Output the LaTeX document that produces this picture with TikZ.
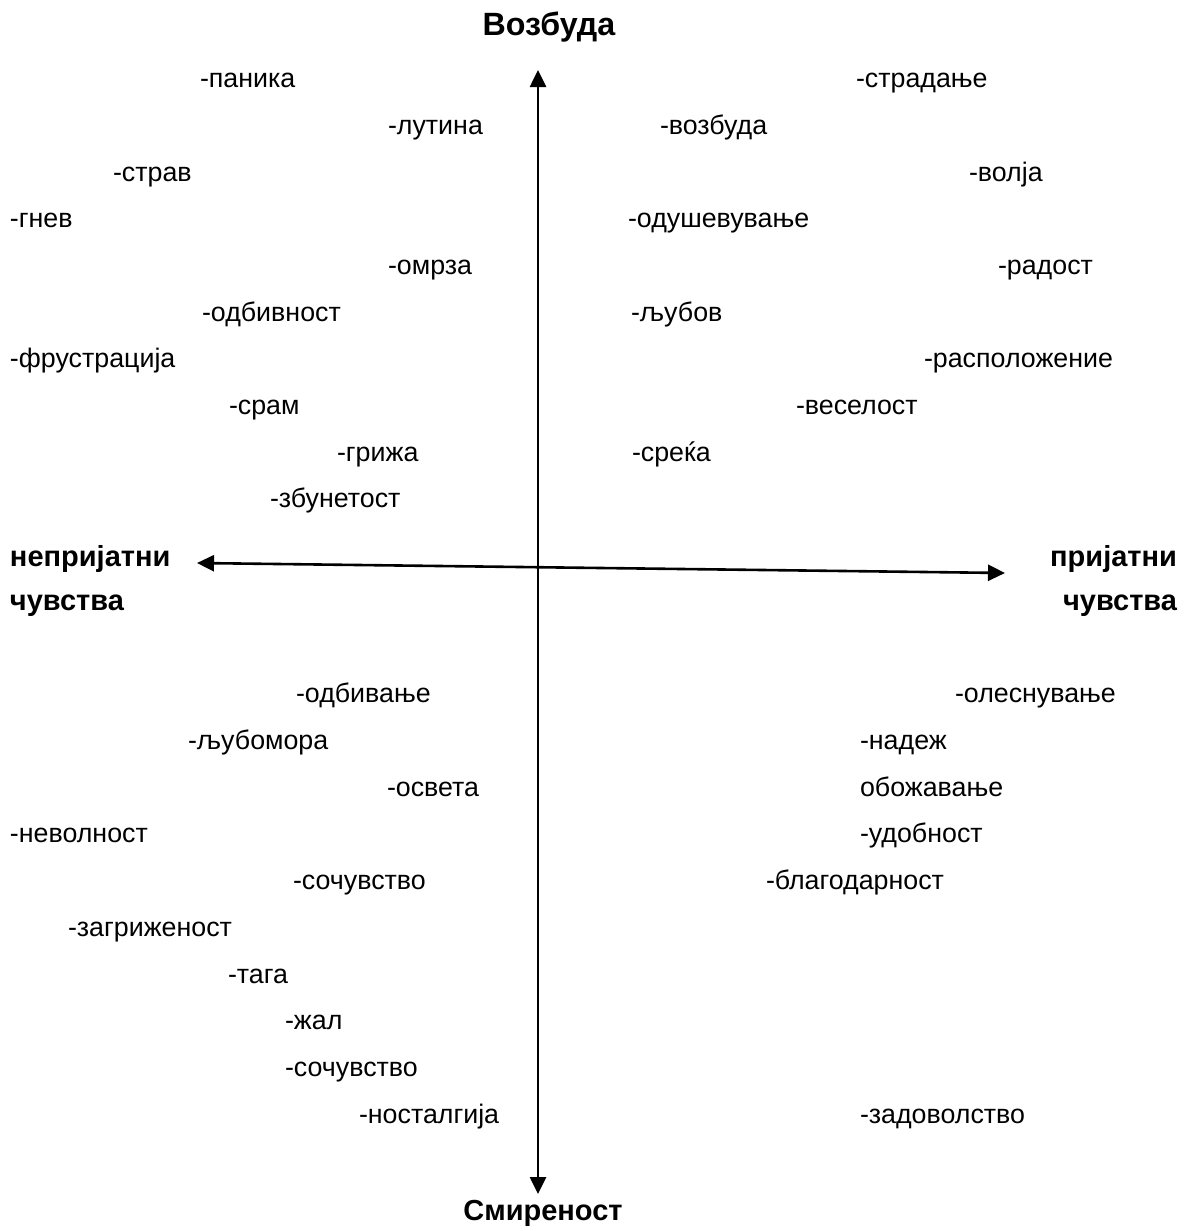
\documentclass[tikz,border=0pt]{standalone}
\usepackage{fontspec}
\setmainfont{Liberation Sans}
\usetikzlibrary{arrows.meta}
\begin{document}
\begin{tikzpicture}[x=0.5pt,y=-0.5pt,>={Triangle[length=8.5pt,width=8pt]},
  every node/.style={inner sep=0pt,outer sep=0pt,anchor=mid west,font=\fontsize{13.4}{15}\selectfont},
  axislabel/.style={font=\fontsize{14.5}{17}\selectfont\bfseries}]
  \useasboundingbox (0,0) rectangle (1186,1231);
  \coordinate (T) at (538,70);
  \coordinate (D) at (538,1194);
  \coordinate (L) at (197,563);
  \coordinate (R) at (1005,573);
  \draw[line width=1.3pt,<->] (D)--(T);
  \draw[line width=1.3pt,<->] (L)--(R);
  % axis labels
  \node[axislabel,font=\fontsize{16.1}{18}\selectfont\bfseries,anchor=mid] (vozb) at (549,30) {Возбуда};
  \node[axislabel,anchor=mid] (smir) at (543,1215) {Смиреност};
  \node[axislabel] (nepr1) at (10,561) {непријатни};
  \node[axislabel] (nepr2) at (10,605) {чувства};
  \node[axislabel,anchor=mid east] (prij1) at (1177,561) {пријатни};
  \node[axislabel,anchor=mid east] (prij2) at (1177,605) {чувства};
  % upper left
  \node (panika) at (200,82) {-паника};
  \node (lutina) at (388,129) {-лутина};
  \node (strav) at (113,176) {-страв};
  \node (gnev) at (10,222) {-гнев};
  \node (omrza) at (388,269) {-омрза};
  \node (odbivnost) at (202,316) {-одбивност};
  \node (frustr) at (10,362) {-фрустрација};
  \node (sram) at (229,409) {-срам};
  \node (grizha) at (337,456) {-грижа};
  \node (zbunet) at (270,502) {-збунетост};
  % upper right
  \node (stradanje) at (856,82) {-страдање};
  \node (vozbuda) at (660,129) {-возбуда};
  \node (volja) at (969,176) {-волја};
  \node (odush) at (628,222) {-одушевување};
  \node (radost) at (998,269) {-радост};
  \node (ljubov) at (631,316) {-љубов};
  \node (raspol) at (924,362) {-расположение};
  \node (veselost) at (796,409) {-веселост};
  \node (srekja) at (632,456) {-среќа};
  % lower left
  \node (odbivanje) at (296,697) {-одбивање};
  \node (ljubomora) at (188,744) {-љубомора};
  \node (osveta) at (387,791) {-освета};
  \node (nevolnost) at (10,837) {-неволност};
  \node (sochuv1) at (293,884) {-сочувство};
  \node (zagrizh) at (68,931) {-загриженост};
  \node (taga) at (228,978) {-тага};
  \node (zhal) at (285,1024) {-жал};
  \node (sochuv2) at (285,1071) {-сочувство};
  \node (nostalg) at (359,1118) {-носталгија};
  % lower right
  \node (olesn) at (955,697) {-олеснување};
  \node (nadezh) at (860,744) {-надеж};
  \node (obozh) at (860,791) {обожавање};
  \node (udobn) at (860,837) {-удобност};
  \node (blagod) at (766,884) {-благодарност};
  \node (zadov) at (860,1118) {-задоволство};
\end{tikzpicture}
\end{document}
